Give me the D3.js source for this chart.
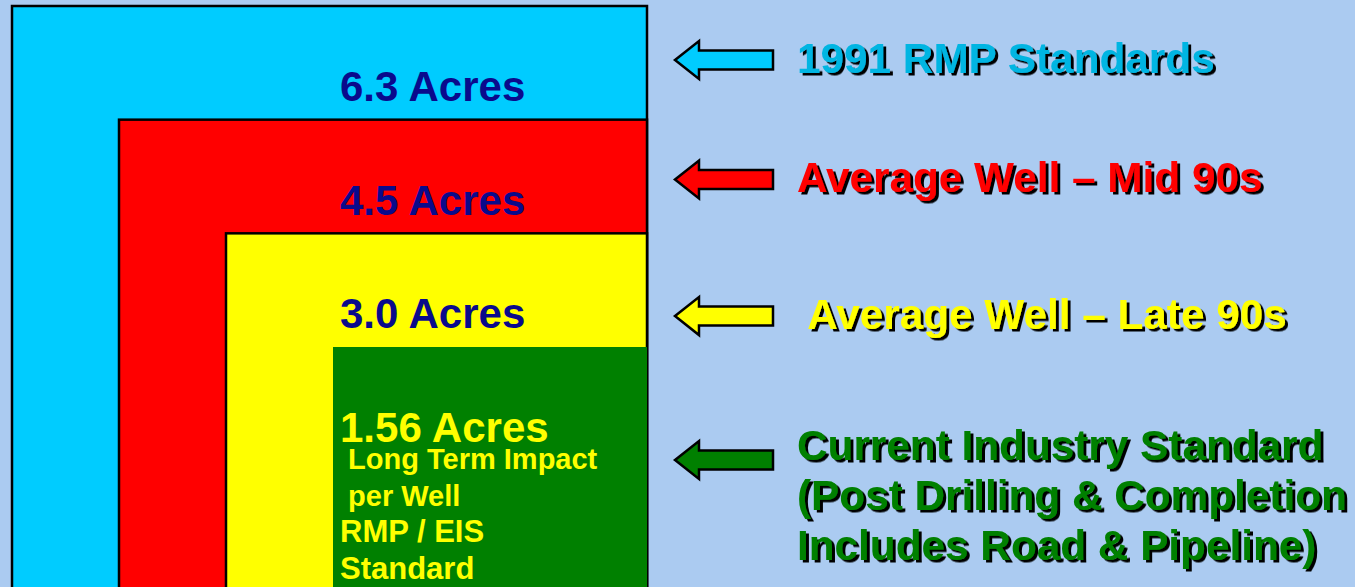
<!DOCTYPE html>
<html>
<head>
<meta charset="utf-8">
<script src="https://cdn.jsdelivr.net/npm/d3@7"></script>
<style>
  body { margin: 0; background: #abcbf1; }
  svg text { font-family: "Liberation Sans", Arial, sans-serif; font-weight: bold; white-space: pre; }
</style>
</head>
<body>
<div id="chart"></div>
<script>
var svgWidth = 1355;
var svgHeight = 587;

// data
var categories = ["1991 RMP Standards", "Average Well – Mid 90s", "Average Well – Late 90s", "Current Industry Standard"];
var acres = [6.3, 4.5, 3.0, 1.56];
var areaLabels = ["6.3 Acres", "4.5 Acres", "3.0 Acres", "1.56 Acres"];
var legendLines = [
    ["1991 RMP Standards"],
    ["Average Well – Mid 90s"],
    [" Average Well – Late 90s"],
    ["Current Industry Standard", "(Post Drilling & Completion", "Includes Road & Pipeline)"]
];
var noteLines = [" Long Term Impact", " per Well", "RMP / EIS", "Standard"];

var fillColors = ["#00ccff", "#ff0000", "#ffff00", "#008000"];
var textColors = ["#00b5e2", "#ff0000", "#ffff00", "#008000"];
var labelColors = ["#0a0a8c", "#0a0a8c", "#0a0a8c", "#ffff00"];

var rows = categories.map(function(c, i) {
    return { name: c, acres: acres[i], label: areaLabels[i], lines: legendLines[i], idx: i };
});

var svg = d3.select("#chart")
    .append("svg")
    .attr("width", svgWidth)
    .attr("height", svgHeight);

// drop shadow for the legend text
svg.append("defs")
    .append("filter")
    .attr("id", "shadow")
    .attr("x", "-5%").attr("y", "-20%")
    .attr("width", "110%").attr("height", "140%")
    .append("feDropShadow")
    .attr("dx", 3)
    .attr("dy", 2.5)
    .attr("stdDeviation", 0.4)
    .attr("flood-color", "#000")
    .attr("flood-opacity", 1);

svg.append("rect")
    .attr("width", svgWidth)
    .attr("height", svgHeight)
    .attr("fill", "#abcbf1");

// scales
var rightEdge = 647;
var xLeft = d3.scalePoint().domain(categories).range([12, 333]);
var yTop = d3.scalePoint().domain(categories).range([6, 347]);
var fill = d3.scaleOrdinal(categories, fillColors);
var textFill = d3.scaleOrdinal(categories, textColors);
var labelFill = d3.scaleOrdinal(categories, labelColors);
var rowY = d3.scalePow().exponent(1.1).domain([0, categories.length - 1]).range([60, 460]);

// nested boxes
svg.selectAll("rect.box")
    .data(rows)
    .enter()
    .append("rect")
    .attr("class", "box")
    .attr("x", d => xLeft(d.name))
    .attr("y", d => yTop(d.name))
    .attr("width", d => rightEdge - xLeft(d.name))
    .attr("height", d => svgHeight + 50 - yTop(d.name))
    .attr("fill", d => fill(d.name))
    .attr("stroke", d => d.idx < 3 ? "#000" : "none")
    .attr("stroke-width", 2.5);

// acre labels
svg.selectAll("text.acres")
    .data(rows)
    .enter()
    .append("text")
    .attr("class", "acres")
    .attr("x", 340)
    .attr("y", d => yTop(d.name) + 95)
    .attr("font-size", 42)
    .attr("fill", d => labelFill(d.name))
    .text(d => d.label);

var last = rows[rows.length - 1];
svg.selectAll("text.note")
    .data(noteLines)
    .enter()
    .append("text")
    .attr("class", "note")
    .attr("x", 340)
    .attr("y", (d, i) => yTop(last.name) + 95 + 27 + i * 36.7)
    .attr("font-size", (d, i) => i < 2 ? 29 : 31)
    .attr("fill", "#ffff00")
    .text(d => d);

// arrows
function arrowPath(x0, y) {
    return "M" + x0 + "," + y +
        "L" + (x0 + 24) + "," + (y - 19) +
        "L" + (x0 + 24) + "," + (y - 9.5) +
        "L" + (x0 + 98) + "," + (y - 9.5) +
        "L" + (x0 + 98) + "," + (y + 9.5) +
        "L" + (x0 + 24) + "," + (y + 9.5) +
        "L" + (x0 + 24) + "," + (y + 19) + "Z";
}

svg.selectAll("path.arrow")
    .data(rows)
    .enter()
    .append("path")
    .attr("class", "arrow")
    .attr("d", d => arrowPath(675, rowY(d.idx)))
    .attr("fill", d => fill(d.name))
    .attr("stroke", "#000")
    .attr("stroke-width", 2.5)
    .attr("stroke-linejoin", "miter");

// legend text
var legend = svg.selectAll("g.legend")
    .data(rows)
    .enter()
    .append("g")
    .attr("class", "legend")
    .attr("filter", "url(#shadow)");

legend.each(function(d) {
    var base = rowY(d.idx) + 13 - (d.lines.length - 1) * 6.5;
    d3.select(this).selectAll("text")
        .data(d.lines)
        .enter()
        .append("text")
        .attr("x", 797)
        .attr("y", (t, i) => base + i * 50)
        .attr("font-size", 42.3)
        .attr("fill", textFill(d.name))
        .text(t => t);
});
</script>
</body>
</html>
